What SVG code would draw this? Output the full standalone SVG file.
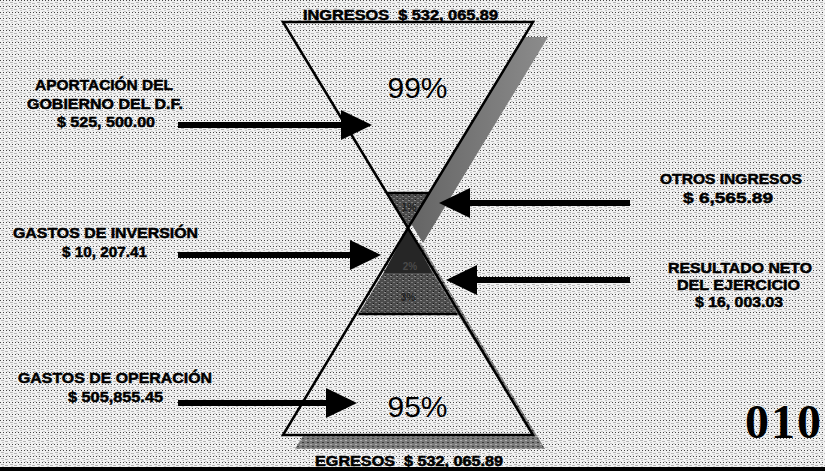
<svg xmlns="http://www.w3.org/2000/svg" width="825" height="471" viewBox="0 0 825 471">
<defs>
<pattern id="tex" width="9" height="6" patternUnits="userSpaceOnUse">
<rect width="9" height="6" fill="#f1f1f1"/>
<rect x="0" y="0" width="1" height="1" fill="#444"/>
<rect x="3" y="0" width="1" height="1" fill="#444"/>
<rect x="6" y="0" width="1" height="1" fill="#444"/>
<rect x="1" y="2" width="3" height="1" fill="#b5b5b5"/>
<rect x="5" y="3" width="3" height="1" fill="#b5b5b5"/>
<rect x="2" y="4" width="2" height="1" fill="#c8c8c8"/>
<rect x="7" y="5" width="2" height="1" fill="#c8c8c8"/>
</pattern>
<pattern id="darktex" width="6" height="4" patternUnits="userSpaceOnUse">
<rect width="6" height="4" fill="#4c4c4c"/>
<rect x="0" y="0" width="2" height="1" fill="#8a8a8a"/>
<rect x="3" y="2" width="2" height="1" fill="#7a7a7a"/>
<rect x="1" y="3" width="1" height="1" fill="#1a1a1a"/>
</pattern>
<pattern id="shtex" width="5" height="4" patternUnits="userSpaceOnUse">
<rect width="5" height="4" fill="#7c7c7c"/>
<rect x="0" y="0" width="2" height="1" fill="#b0b0b0"/>
<rect x="2" y="2" width="2" height="1" fill="#3a3a3a"/>
</pattern>
<linearGradient id="shadeTop" x1="0" y1="0" x2="1" y2="0">
<stop offset="0" stop-color="#444"/>
<stop offset="1" stop-color="#8c8c8c"/>
</linearGradient>
<marker id="head" markerUnits="userSpaceOnUse" markerWidth="32" markerHeight="31" refX="1" refY="15" orient="auto">
<path d="M0,0 L31,15 L0,30 Z" fill="#000"/>
</marker>
<style>
.lbl{font-family:"Liberation Sans",Arial,sans-serif;font-weight:bold;font-size:15px;fill:#000;stroke:#000;stroke-width:0.5}
.ttl{font-family:"Liberation Sans",Arial,sans-serif;font-weight:bold;font-size:14px;fill:#000;stroke:#000;stroke-width:0.5}
.pct{font-family:"Liberation Sans",Arial,sans-serif;font-size:30px;fill:#000;text-anchor:middle}
.sm{font-family:"Liberation Sans",Arial,sans-serif;font-weight:bold;font-size:10px;text-anchor:middle}
.edge{fill:none;stroke:#000;stroke-width:2.5}
.arr{stroke:#000;stroke-width:6;fill:none;marker-end:url(#head)}
</style>
</defs>

<rect width="825" height="471" fill="url(#tex)"/>

<g id="bottom-section">
<polygon points="420,242 545,449 295,449" fill="url(#shtex)"/>
<polygon points="408,228 432.5,273 383.5,273" fill="#262626"/>
<polygon points="383.5,273 432.5,273 457.5,314 358.5,314" fill="url(#darktex)"/>
<polygon points="358.5,314 457.5,314 533,435 283,435" fill="url(#tex)"/>
<polygon points="408,228 533,435 283,435" class="edge"/>
<line x1="358.5" y1="314" x2="457.5" y2="314" stroke="#000" stroke-width="2.5"/>
<text class="sm" x="410" y="270" fill="#4a4a4a">2%</text>
<text class="sm" x="408" y="301" fill="#222">3%</text>
<text class="pct" x="417.5" y="417">95%</text>
</g>

<g id="top-section">
<polygon points="298,37 548,37 423,243" fill="url(#shadeTop)"/>
<polygon points="283,22 533,22 429.5,193 386.5,193" fill="url(#tex)"/>
<polygon points="386.5,193 429.5,193 408,228" fill="url(#darktex)"/>
<polygon points="283,22 533,22 408,228" class="edge"/>
<line x1="386.5" y1="193" x2="429.5" y2="193" stroke="#000" stroke-width="2.5"/>
<text class="sm" x="409" y="211" fill="#222">1%</text>
<text class="pct" x="417.5" y="98">99%</text>
</g>

<g id="ingresos-title">
<text class="ttl" x="303" y="19.5" textLength="195" lengthAdjust="spacingAndGlyphs">INGRESOS &#160;$ 532, 065.89</text>
</g>
<g id="egresos-title">
<text class="ttl" x="315" y="466" textLength="188" lengthAdjust="spacingAndGlyphs">EGRESOS &#160;$ 532, 065.89</text>
</g>

<g id="label-aportacion">
<text class="lbl" x="35" y="90" textLength="138" lengthAdjust="spacingAndGlyphs">APORTACIÓN DEL</text>
<text class="lbl" x="27" y="109" textLength="156" lengthAdjust="spacingAndGlyphs">GOBIERNO DEL D.F.</text>
<text class="lbl" x="57" y="127" textLength="98" lengthAdjust="spacingAndGlyphs">$ 525, 500.00</text>
</g>
<g id="label-inversion">
<text class="lbl" x="13" y="238" textLength="185" lengthAdjust="spacingAndGlyphs">GASTOS DE INVERSIÓN</text>
<text class="lbl" x="62" y="257" textLength="85" lengthAdjust="spacingAndGlyphs">$ 10, 207.41</text>
</g>
<g id="label-operacion">
<text class="lbl" x="18" y="383" textLength="194" lengthAdjust="spacingAndGlyphs">GASTOS DE OPERACIÓN</text>
<text class="lbl" x="68" y="402" textLength="95" lengthAdjust="spacingAndGlyphs">$ 505,855.45</text>
</g>
<g id="label-otros">
<text class="lbl" x="660" y="184" textLength="142" lengthAdjust="spacingAndGlyphs">OTROS INGRESOS</text>
<text class="lbl" x="683" y="203" textLength="90" lengthAdjust="spacingAndGlyphs">$ 6,565.89</text>
</g>
<g id="label-resultado">
<text class="lbl" x="668" y="273" textLength="144" lengthAdjust="spacingAndGlyphs">RESULTADO NETO</text>
<text class="lbl" x="677" y="290" textLength="123" lengthAdjust="spacingAndGlyphs">DEL EJERCICIO</text>
<text class="lbl" x="695" y="307" textLength="88" lengthAdjust="spacingAndGlyphs">$ 16, 003.03</text>
</g>

<g id="connectors">
<line class="arr" x1="178" y1="125" x2="342" y2="125"/>
<line class="arr" x1="630" y1="203" x2="469" y2="203"/>
<line class="arr" x1="178" y1="255" x2="351" y2="255"/>
<line class="arr" x1="630" y1="280" x2="476" y2="280"/>
<line class="arr" x1="178" y1="403" x2="327" y2="403"/>
</g>

<g id="page-number">
<text x="745" y="438" font-family="'Liberation Serif','Times New Roman',serif" font-weight="bold" font-size="48" letter-spacing="2" fill="#000">010</text>
</g>
<rect x="0" y="467" width="825" height="4" fill="#000"/>
</svg>
